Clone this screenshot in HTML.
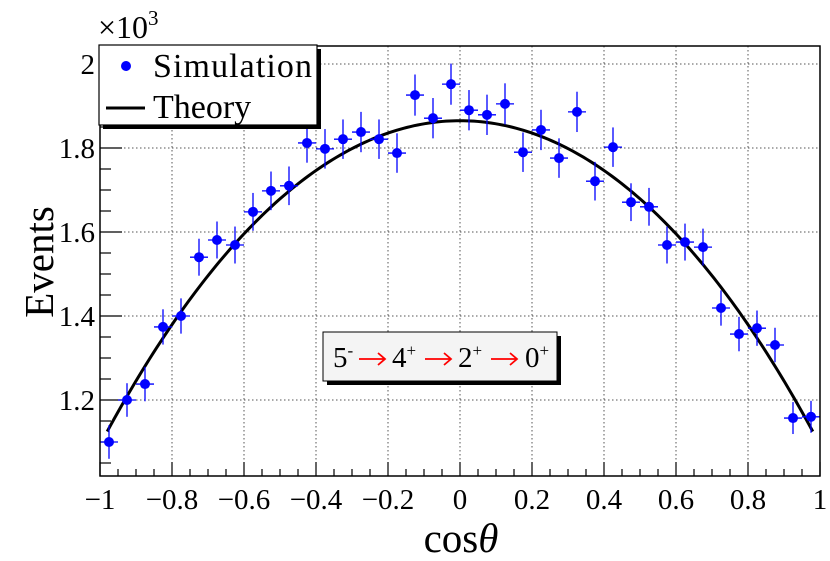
<!DOCTYPE html>
<html><head><meta charset="utf-8"><style>
body{margin:0;background:#fff}
svg{display:block;font-family:"Liberation Serif",serif}
</style></head><body>
<svg id="c" width="830" height="561" xmlns="http://www.w3.org/2000/svg"></svg>
<script>
const xCenters=[-0.975,-0.925,-0.875,-0.825,-0.775,-0.725,-0.675,-0.625,-0.575,-0.525,-0.475,-0.425,-0.375,-0.325,-0.275,-0.225,-0.175,-0.125,-0.075,-0.025,0.025,0.075,0.125,0.175,0.225,0.275,0.325,0.375,0.425,0.475,0.525,0.575,0.625,0.675,0.725,0.775,0.825,0.875,0.925,0.975];
const simValues=[1.100,1.200,1.238,1.374,1.400,1.540,1.581,1.569,1.648,1.698,1.710,1.812,1.798,1.821,1.838,1.821,1.788,1.926,1.871,1.952,1.890,1.879,1.905,1.790,1.843,1.776,1.886,1.721,1.802,1.671,1.660,1.569,1.576,1.564,1.419,1.357,1.371,1.331,1.157,1.160];
const simErrors=[0.040,0.040,0.041,0.042,0.042,0.044,0.044,0.044,0.045,0.046,0.046,0.047,0.047,0.047,0.048,0.047,0.047,0.049,0.048,0.049,0.048,0.048,0.049,0.047,0.048,0.047,0.048,0.046,0.047,0.045,0.045,0.044,0.044,0.044,0.042,0.041,0.042,0.041,0.038,0.038];
const theoryCoeffs=[1.865,-0.735,-0.037];
const xTicks=[-1,-0.8,-0.6,-0.4,-0.2,0,0.2,0.4,0.6,0.8,1];
const xTickLabels=["\u22121","\u22120.8","\u22120.6","\u22120.4","\u22120.2","0","0.2","0.4","0.6","0.8","1"];
const yTicks=[1.2,1.4,1.6,1.8,2.0];
const yTickLabels=["1.2","1.4","1.6","1.8","2"];

const L=100,R=820,T=46,B=476;
const X=v=>L+(v+1)/2*(R-L);
const Y=v=>400-(v-1.2)*420;
const ns="http://www.w3.org/2000/svg";
const svg=document.getElementById('c');
function mk(tag,attrs,parent){const e=document.createElementNS(ns,tag);for(const k in attrs)e.setAttribute(k,attrs[k]);(parent||svg).appendChild(e);return e;}

xTicks.forEach((t,i)=>{if(i>0&&i<xTicks.length-1){const g=mk('line',{x1:X(t),x2:X(t),y1:T,y2:B,stroke:'#555','stroke-width':1,'stroke-dasharray':'1.5,2.5'});

}});
yTicks.forEach(t=>{const g=mk('line',{x1:L,x2:R,y1:Y(t),y2:Y(t),stroke:'#555','stroke-width':1,'stroke-dasharray':'1.5,2.5'});

});

for(let v=-1;v<=1.0001;v+=0.05){const major=Math.abs(Math.round(v*5)-v*5)<1e-6;const tk=mk('line',{x1:X(v),x2:X(v),y1:B,y2:B-(major?14:7),stroke:'#000','stroke-width':1.2});

}
for(let v=1.05;v<=2.04;v+=0.05){const major=Math.abs(Math.round(v*5)-v*5)<1e-6;const tk=mk('line',{x1:L,x2:L+(major?22:11),y1:Y(v),y2:Y(v),stroke:'#000','stroke-width':1.2});

}

xTicks.forEach((t,i)=>{const tx=mk('text',{x:X(t),y:509,'text-anchor':'middle',style:'font-size:29px'});tx.textContent=xTickLabels[i];

});
yTicks.forEach((t,i)=>{const tx=mk('text',{x:95,y:Y(t)+10,'text-anchor':'end',style:'font-size:29px'});tx.textContent=yTickLabels[i];

});

let d='';for(let i=0;i<=200;i++){const x=-0.98+1.96*i/200;const y=theoryCoeffs[0]+theoryCoeffs[1]*x*x+theoryCoeffs[2]*x**4;d+=(i?'L':'M')+X(x).toFixed(2)+','+Y(y).toFixed(2);}
const th=mk('path',{d:d,fill:'none',stroke:'#000','stroke-width':3});



xCenters.forEach((x,i)=>{const g=mk('g',{});


const v=simValues[i],e=simErrors[i];
mk('line',{x1:X(x-0.025),x2:X(x+0.025),y1:Y(v),y2:Y(v),stroke:'#00f','stroke-width':1.3},g);
mk('line',{x1:X(x),x2:X(x),y1:Y(v-e),y2:Y(v+e),stroke:'#00f','stroke-width':1.3},g);
mk('circle',{cx:X(x),cy:Y(v),r:5,fill:'#00f'},g);});

const fr=mk('rect',{x:L,y:T,width:R-L,height:B-T,fill:'none',stroke:'#000','stroke-width':1.5});


</script>
<svg style="position:absolute;left:0;top:0" width="830" height="561" xmlns="http://www.w3.org/2000/svg">
<text x="98" y="38" style="font-size:32px">×10<tspan dy="-13" style="font-size:21px">3</tspan></text>
<g>
<rect x="103" y="49" width="218" height="80" fill="#000"/>
<rect x="99" y="45" width="218" height="80" fill="#fff" stroke="#000" stroke-width="1.2"/>
<g><circle cx="126" cy="66" r="5" fill="#00f"/><text x="153" y="77" style="font-size:34px" textLength="159">Simulation</text></g>
<g><line x1="106" y1="108" x2="145" y2="108" stroke="#000" stroke-width="3"/><text x="153" y="118" style="font-size:34px">Theory</text></g>
</g>
<g>
<rect x="327" y="336" width="234" height="49" fill="#000"/>
<rect x="323" y="332" width="234" height="49" fill="#f4f4f4" stroke="#000" stroke-width="1"/>
<g style="font-size:29px">
<text x="333" y="367">5<tspan dy="-11" style="font-size:17px">-</tspan></text>
<text x="392" y="367">4<tspan dy="-11" style="font-size:17px">+</tspan></text>
<text x="458" y="367">2<tspan dy="-11" style="font-size:17px">+</tspan></text>
<text x="525" y="367">0<tspan dy="-11" style="font-size:17px">+</tspan></text>
</g>
<g stroke="#f00" stroke-width="1.8" fill="none">
<path d="M359 359H385M378 353L385 359L378 365"/>
<path d="M425 359H451M444 353L451 359L444 365"/>
<path d="M491 359H517M510 353L517 359L510 365"/>
</g>
</g>
<text x="461" y="552" style="font-size:41px" text-anchor="middle">cos<tspan font-style="italic">θ</tspan></text>
<text transform="translate(53,262) rotate(-90)" style="font-size:41px" text-anchor="middle">Events</text>
</svg>
</body></html>
